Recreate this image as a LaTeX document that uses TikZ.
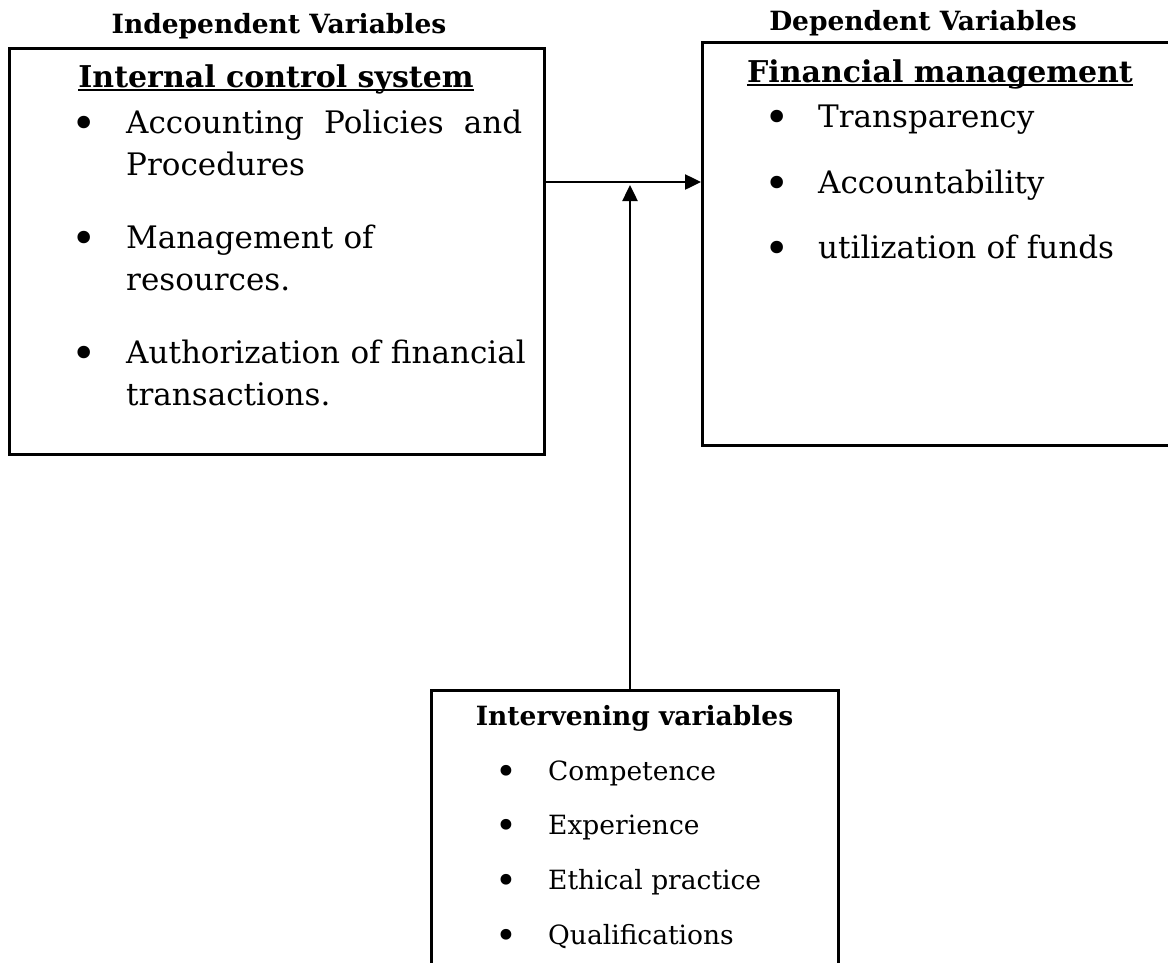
\documentclass[tikz,border=0pt]{standalone}
\usepackage{fontspec}
\setmainfont{DejaVu Serif}
\usepackage{tikz}
\usetikzlibrary{arrows.meta, positioning}
\tikzset{
    varbox/.style={rectangle, draw=black, line width=2.5pt, anchor=north west, inner sep=0pt},
    boxtitle/.style={font=\bfseries\fontsize{26.5}{32}\selectfont, anchor=base, inner sep=0pt},
    boxhead/.style={font=\bfseries\fontsize{30}{38}\selectfont, anchor=base, inner sep=0pt},
    bigbullet/.style={font=\fontsize{43}{43}\selectfont, anchor=base, inner sep=0pt, yshift=-5pt},
    bigitem/.style={font=\fontsize{31}{42}\selectfont, anchor=base west, inner sep=0pt, align=left, text width=420pt},
    smallbullet/.style={font=\fontsize{37}{37}\selectfont, anchor=base, inner sep=0pt, yshift=-4pt},
    smallitem/.style={font=\fontsize{26.5}{36}\selectfont, anchor=base west, inner sep=0pt, align=left},
    line/.style={draw, -{Triangle[length=16pt, width=15pt]}, line width=2.5pt},
    headline/.style={draw, line width=2pt}
}

\begin{document}
\begin{tikzpicture}[x=1pt, y=-1pt]
        \useasboundingbox (0,0) rectangle (1168,962);
        \clip (0,0) rectangle (1168,962);

        % Boxes
        \node [varbox, minimum width=535pt, minimum height=406pt] (icsbox) at (8,47) {};
        \node [varbox, minimum width=479pt, minimum height=403pt] (fmbox) at (701,41) {};
        \node [varbox, minimum width=407pt, minimum height=320pt] (ivbox) at (430,689) {};

        % Independent variables
        \node [boxtitle] (indep) at (279,33) {Independent Variables};
        \node [boxhead] (icshead) at (276,87) {Internal control system};
        \draw [headline] ([yshift=-3pt]icshead.base west) -- ([yshift=-3pt]icshead.base east);
        \node [bigbullet] (icsdot1) at (84,133) {\textbullet};
        \node [bigitem, text width=396pt] (policies) at (126,133) {Accounting\hfill Policies\hfill and\\Procedures};
        \node [bigbullet] (icsdot2) at (84,248) {\textbullet};
        \node [bigitem] (resources) at (126,248) {Management of\\resources.};
        \node [bigbullet] (icsdot3) at (84,363) {\textbullet};
        \node [bigitem] (authorization) at (126,363) {Authorization of financial\\transactions.};

        % Dependent variables
        \node [boxtitle] (dep) at (923,30) {Dependent Variables};
        \node [boxhead] (fmhead) at (940,82) {Financial management};
        \draw [headline] ([yshift=-3pt]fmhead.base west) -- ([yshift=-3pt]fmhead.base east);
        \node [bigbullet] (fmdot1) at (777,127) {\textbullet};
        \node [bigitem] (transparency) at (818,127) {Transparency};
        \node [bigbullet] (fmdot2) at (777,193) {\textbullet};
        \node [bigitem] (accountability) at (818,193) {Accountability};
        \node [bigbullet] (fmdot3) at (777,258) {\textbullet};
        \node [bigitem] (funds) at (818,258) {utilization of funds};

        % Intervening variables
        \node [boxtitle] (ivtitle) at (634.5,725) {Intervening variables};
        \node [smallbullet] (ivdot1) at (506,780) {\textbullet};
        \node [smallitem] (competence) at (548,780) {Competence};
        \node [smallbullet] (ivdot2) at (506,834) {\textbullet};
        \node [smallitem] (experience) at (548,834) {Experience};
        \node [smallbullet] (ivdot3) at (506,889) {\textbullet};
        \node [smallitem] (ethics) at (548,889) {Ethical practice};
        \node [smallbullet] (ivdot4) at (506,944) {\textbullet};
        \node [smallitem] (qualifications) at (548,944) {Qualifications};

        % Paths
        \coordinate (meet) at (630,182);
        \draw [line] (icsbox.east |- meet) -- (fmbox.west |- meet);
        \draw [line] (ivbox.north -| meet) -- ([yshift=-3pt]meet);

    \end{tikzpicture}
\end{document}
